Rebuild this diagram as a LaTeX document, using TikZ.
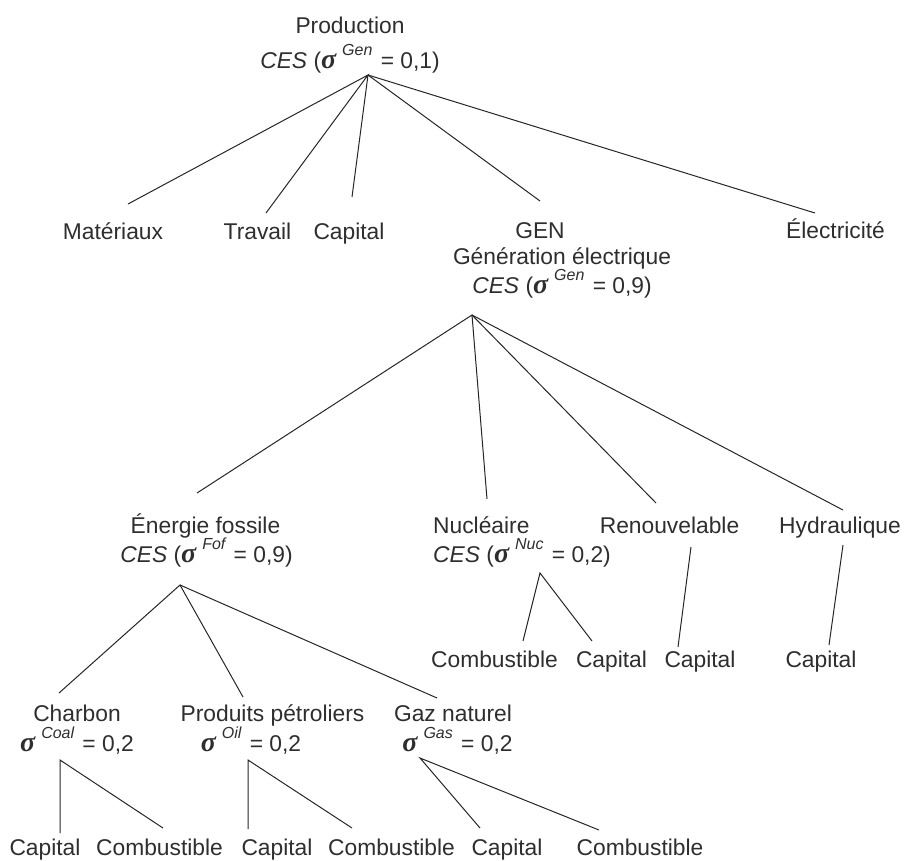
\documentclass[tikz,border=0pt]{standalone}
\usepackage{fontspec}
\setmainfont{Liberation Sans}
\newfontfamily\sigfont{Liberation Serif}
\newcommand{\sg}{{\fontsize{28}{28}\sigfont\bfseries\itshape σ}}
\newcommand{\supx}[1]{\hspace{6pt}\raisebox{13pt}{\fontsize{16}{16}\selectfont\itshape #1}\hspace{2pt}}
\newcommand{\ces}[2]{{\itshape CES} (\sg\supx{#1} = #2)}
\begin{document}
\begin{tikzpicture}[x=1pt,y=-1pt,
  lbl/.style={anchor=base,inner sep=0pt,text=black!82,font=\fontsize{22.8}{27}\selectfont},
  lblw/.style={lbl,anchor=base west},
  edge/.style={line width=1pt,black!85}]
\useasboundingbox (0,0) rectangle (910,860);
% level 0
\node[lbl] (prod) at (350,33) {Production};
\node[lbl] (prodc) at (350,68) {\ces{Gen}{0,1}};
% level 1
\node[lbl] (mat) at (113,239) {Matériaux};
\node[lbl] (trav) at (257.5,239) {Travail};
\node[lbl] (cap1) at (349,239) {Capital};
\node[lbl] (gen) at (540,238) {GEN};
\node[lbl] (gen2) at (562,264) {Génération électrique};
\node[lbl] (genc) at (562,293) {\ces{Gen}{0,9}};
\node[lbl] (elec) at (835.5,238) {Électricité};
% level 2
\node[lbl] (fof) at (205.5,533) {Énergie fossile};
\node[lbl] (fofc) at (206.5,562) {\ces{Fof}{0,9}};
\node[lblw] (nuc) at (433,533) {Nucléaire};
\node[lblw] (nucc) at (433,562) {\ces{Nuc}{0,2}};
\node[lbl] (ren) at (669.5,533) {Renouvelable};
\node[lbl] (hyd) at (840,533) {Hydraulique};
% nuc/ren/hyd children
\node[lbl] (nucf) at (494.5,667) {Combustible};
\node[lbl] (nuck) at (611.5,667) {Capital};
\node[lbl] (renk) at (700,667) {Capital};
\node[lbl] (hydk) at (821,667) {Capital};
% level 3
\node[lbl] (coal) at (77,721) {Charbon};
\node[lbl] (coals) at (77,751) {\sg\supx{Coal} = 0,2};
\node[lbl] (oil) at (272.5,721) {Produits pétroliers};
\node[lbl] (oils) at (251,751) {\sg\supx{Oil} = 0,2};
\node[lbl] (gas) at (453,721) {Gaz naturel};
\node[lbl] (gass) at (457.5,751) {\sg\supx{Gas} = 0,2};
% level 4
\node[lbl] (coalk) at (45,855) {Capital};
\node[lbl] (coalf) at (159.5,855) {Combustible};
\node[lbl] (oilk) at (277,855) {Capital};
\node[lbl] (oilf) at (391.5,855) {Combustible};
\node[lbl] (gask) at (507,855) {Capital};
\node[lbl] (gasf) at (640,855) {Combustible};
% apexes and line ends
\coordinate (A0) at (368,75);
\coordinate (matT) at (128,204);
\coordinate (travT) at (266,213);
\coordinate (cap1T) at (352,197);
\coordinate (genT) at (540,201);
\coordinate (elecT) at (815,213);
\coordinate (A1) at (472,315);
\coordinate (fofT) at (197,493);
\coordinate (nucT) at (487,499);
\coordinate (renT) at (656,503);
\coordinate (hydT) at (843,510);
\coordinate (A2) at (180,585);
\coordinate (coalT) at (59,693);
\coordinate (oilT) at (243,697);
\coordinate (gasT) at (437,698);
\coordinate (A3) at (540,573);
\coordinate (nucfT) at (523,641);
\coordinate (nuckT) at (592,641);
\coordinate (A4) at (691,547);
\coordinate (renkT) at (678,647);
\coordinate (A5) at (843,545);
\coordinate (hydkT) at (829,645);
\coordinate (A6) at (60,760);
\coordinate (coalkT) at (60,833);
\coordinate (coalfT) at (163,828);
\coordinate (A7) at (248,760);
\coordinate (oilkT) at (248,829);
\coordinate (oilfT) at (352,828);
\coordinate (A8) at (420,758);
\coordinate (gaskT) at (480,828);
\coordinate (gasfT) at (599,830);
% connectors
\draw[edge] (matT) -- (A0) -- (travT);
\draw[edge] (A0) -- (cap1T);
\draw[edge] (A0) -- (genT);
\draw[edge] (A0) -- (elecT);
\draw[edge] (fofT) -- (A1) -- (nucT);
\draw[edge] (A1) -- (renT);
\draw[edge] (A1) -- (hydT);
\draw[edge] (coalT) -- (A2) -- (oilT);
\draw[edge] (A2) -- (gasT);
\draw[edge] (nucfT) -- (A3) -- (nuckT);
\draw[edge] (A4) -- (renkT);
\draw[edge] (A5) -- (hydkT);
\draw[edge] (coalkT) -- (A6) -- (coalfT);
\draw[edge] (oilkT) -- (A7) -- (oilfT);
\draw[edge] (gaskT) -- (A8) -- (gasfT);
\end{tikzpicture}
\end{document}
